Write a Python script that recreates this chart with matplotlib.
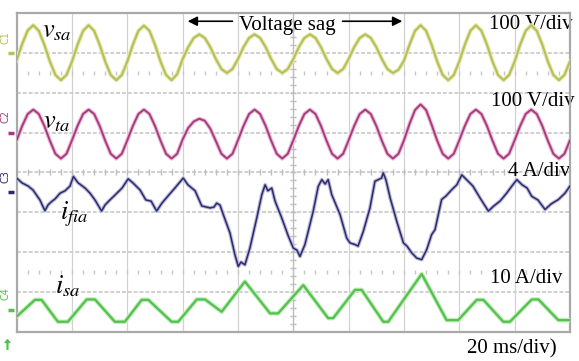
import matplotlib.pyplot as plt
import numpy as np

# =============================================================================
# Scope capture: source voltage, load voltage, filter current, source current
# (time in ms, traces in screen divisions measured from each channel's zero)
# =============================================================================

# voltage channels, sampled every 2 ms (one row = one 20 ms cycle)
t_v = list(range(0, 201, 2))

v_sa = [-0.18, 0.23, 0.57, 0.70, 0.56, 0.21, -0.21, -0.55, -0.68, -0.55,
        -0.21, 0.21, 0.56, 0.70, 0.56, 0.21, -0.21, -0.55, -0.68, -0.55,
        -0.21, 0.21, 0.56, 0.69, 0.56, 0.21, -0.21, -0.55, -0.68, -0.53,
        -0.15, 0.15, 0.38, 0.47, 0.38, 0.15, -0.15, -0.40, -0.50, -0.40,
        -0.15, 0.15, 0.38, 0.47, 0.38, 0.15, -0.15, -0.40, -0.50, -0.40,
        -0.15, 0.15, 0.38, 0.47, 0.38, 0.15, -0.15, -0.40, -0.50, -0.40,
        -0.15, 0.15, 0.38, 0.47, 0.38, 0.15, -0.15, -0.40, -0.50, -0.42,
        -0.19, 0.21, 0.56, 0.70, 0.56, 0.21, -0.21, -0.55, -0.68, -0.55,
        -0.21, 0.21, 0.56, 0.70, 0.56, 0.21, -0.21, -0.55, -0.68, -0.55,
        -0.21, 0.21, 0.56, 0.70, 0.56, 0.21, -0.21, -0.55, -0.68, -0.55,
        -0.21]

v_ta = [-0.19, 0.17, 0.47, 0.58, 0.47, 0.17, -0.20, -0.53, -0.65, -0.53,
        -0.19, 0.17, 0.47, 0.58, 0.47, 0.17, -0.20, -0.53, -0.65, -0.53,
        -0.19, 0.17, 0.47, 0.58, 0.47, 0.17, -0.20, -0.53, -0.65, -0.53,
        -0.17, 0.12, 0.28, 0.35, 0.30, 0.10, -0.21, -0.53, -0.65, -0.53,
        -0.19, 0.17, 0.47, 0.58, 0.47, 0.17, -0.20, -0.53, -0.65, -0.53,
        -0.19, 0.17, 0.47, 0.58, 0.47, 0.17, -0.20, -0.53, -0.65, -0.53,
        -0.19, 0.17, 0.47, 0.58, 0.47, 0.17, -0.20, -0.53, -0.65, -0.53,
        -0.19, 0.22, 0.57, 0.71, 0.57, 0.20, -0.20, -0.53, -0.65, -0.53,
        -0.19, 0.17, 0.47, 0.58, 0.47, 0.17, -0.20, -0.53, -0.65, -0.53,
        -0.19, 0.17, 0.47, 0.58, 0.47, 0.17, -0.20, -0.53, -0.65, -0.53,
        -0.19]

# filter current (jagged, read point by point)
t_fia = [0, 1.9, 4.1, 5.9, 8.4, 10.2, 11.4, 12.8, 13.8, 15.7,
         17.5, 19.3, 20.5, 22.2, 24.7, 26.5, 28.3, 30.7, 31.9, 33.7,
         35.5, 38.1, 40.3, 42.0, 44.6, 46.7, 48.6, 50.6, 52.5, 54.7,
         57.2, 60.2, 61.9, 64.5, 66.9, 69.9, 71.3, 72.3, 73.5, 74.7,
         77.1, 78.9, 80.1, 81.1, 82.5, 84.3, 86.8, 88.6, 89.8, 90.8,
         92.2, 93.4, 95.8, 98.2, 100.0, 101.3, 102.4, 104.2, 107.2, 109.0,
         110.3, 111.5, 112.6, 113.9, 116.9, 119.3, 120.5, 122.3, 123.4, 125.3,
         127.7, 129.5, 131.9, 132.5, 133.5, 135.0, 137.4, 139.8, 141.1, 142.8,
         144.6, 146.4, 148.2, 150.0, 151.2, 153.6, 155.2, 157.3, 159.1, 160.9,
         163.2, 164.9, 167.5, 170.5, 172.5, 174.7, 177.1, 178.9, 180.8, 182.7,
         184.5, 186.2, 188.4, 191.0, 193.2, 195.8, 198.2, 200.0]
i_fia = [0.36, 0.24, 0.16, 0.06, -0.19, -0.46, -0.31, -0.22, -0.17, -0.02,
         0.04, 0.16, 0.40, 0.24, 0.11, -0.02, -0.19, -0.47, -0.32, -0.19,
         -0.07, 0.11, 0.34, 0.24, 0.06, -0.19, -0.22, -0.47, -0.27, -0.09,
         0.11, 0.36, 0.19, 0.04, -0.34, -0.39, -0.37, -0.27, -0.32, -0.56,
         -1.02, -1.57, -1.86, -1.75, -1.82, -1.40, -0.64, -0.06, 0.19, 0.04,
         0.11, -0.22, -0.64, -1.10, -1.40, -1.45, -1.61, -1.31, -0.47, 0.15,
         0.32, 0.21, 0.32, -0.06, -0.56, -1.15, -1.27, -1.31, -1.35, -0.98,
         -0.39, 0.28, 0.36, 0.49, 0.31, -0.14, -0.73, -1.27, -1.35, -1.52,
         -1.65, -1.69, -1.44, -1.06, -0.94, -0.18, -0.09, 0.07, 0.19, 0.44,
         0.28, 0.16, -0.14, -0.47, -0.34, -0.22, -0.02, 0.15, 0.32, 0.19,
         0.11, -0.10, -0.19, -0.43, -0.29, -0.18, -0.02, 0.16]

# source current (trapezoid-ish corners)
t_isa = [0, 6.6, 9.0, 14.9, 18.5, 25.3, 28.3, 35.5, 39.1, 45.2,
         47.6, 56.0, 58.4, 65.1, 68.1, 74.1, 82.5, 91.6, 94.5, 103.6,
         112.6, 114.4, 122.3, 124.7, 132.5, 134.3, 146.4, 155.4, 159.6, 166.3,
         168.7, 175.9, 178.3, 186.2, 188.6, 195.8, 200.0]
i_sa = [-0.17, 0.25, 0.25, -0.30, -0.30, 0.26, 0.26, -0.30, -0.30, 0.25,
        0.25, -0.30, -0.30, 0.26, 0.26, -0.05, 0.71, -0.09, -0.09, 0.62,
        -0.21, -0.21, 0.50, 0.50, -0.30, -0.30, 0.90, -0.26, -0.26, 0.25,
        0.25, -0.30, -0.30, 0.26, 0.26, -0.26, -0.26]

ms_per_div = 20.0
# channel zero levels on screen (div)
off_c1, off_c2, off_c3, off_c4 = 3.0, 1.0, -0.5, -3.45

plt.rcParams['font.family'] = ['Liberation Serif', 'DejaVu Serif']
plt.rcParams['mathtext.fontset'] = 'stix'

fig = plt.figure(figsize=(5.79, 3.61), dpi=100)
ax = fig.add_axes([0.0288, 0.0812, 0.9556, 0.882])
ax.set_xlim(0, 10)
ax.set_ylim(-4, 4)
ax.set_xticks([])
ax.set_yticks([])
for s in ax.spines.values():
    s.set_color('#a9a9a9')
    s.set_linewidth(1.6)

# graticule
for gx in range(1, 10):
    ax.axvline(gx, color='#d2d2d2', lw=0.9, zorder=1)
for gy in range(-3, 4):
    ax.axhline(gy, color='#cfcfcf', lw=1.4, ls=(0, (2, 1)), zorder=1)
ax.axvline(5, color='#bdbdbd', lw=0.9, zorder=1)
minor_x = np.arange(0.2, 10, 0.2)
minor_y = np.arange(-3.8, 4, 0.2)
ax.plot(minor_x, np.zeros_like(minor_x), '|', ms=5, color='#bdbdbd', zorder=1)
ax.plot(np.full_like(minor_y, 5), minor_y, '_', ms=5, color='#bdbdbd', zorder=1)
for yy in (2.5, -2.5):
    ax.plot(minor_x, np.full_like(minor_x, yy), '|', ms=3, color='#c8c8c8', zorder=1)

# scale texts (under the traces)
ax.text(10.05, 3.6, '100 V/div', fontsize=15, ha='right', va='baseline', zorder=2, clip_on=False)
ax.text(10.09, 1.67, '100 V/div', fontsize=15, ha='right', va='baseline', zorder=2, clip_on=False)
ax.text(10.0, -0.09, '4 A/div', fontsize=15, ha='right', va='baseline', zorder=2, clip_on=False)
ax.text(9.86, -2.78, '10 A/div', fontsize=15, ha='right', va='baseline', zorder=2)
ax.text(9.76, -4.56, '20 ms/div)', fontsize=15, ha='right', va='baseline', clip_on=False)

# traces with a soft glow like the scope screen
def trace(t, y, off, col, glow, lw):
    x = np.array(t) / ms_per_div
    yy = np.array(y) + off
    ax.plot(x, yy, color=glow, lw=lw + 1.6, solid_joinstyle='round', zorder=3)
    ax.plot(x, yy, color=col, lw=lw, solid_joinstyle='round', zorder=4)

trace(t_v, v_sa, off_c1, '#b7bf55', '#e6e9b8', 1.5)
trace(t_v, v_ta, off_c2, '#aa3a80', '#e8c0d8', 1.4)
trace(t_fia, i_fia, off_c3, '#2c2a6c', '#b8b7d8', 1.1)
trace(t_isa, i_sa, off_c4, '#52c24c', '#c2ecbc', 1.6)

# labels
ax.text(0.46, 3.53, r'$v_{sa}$', fontsize=19, va='center', zorder=5)
ax.text(0.47, 1.24, r'$v_{ta}$', fontsize=19, va='center', zorder=5)
ax.text(0.78, -1.05, r'$i_{fia}$', fontsize=19, va='center', zorder=5)
ax.text(0.69, -2.85, r'$i_{sa}$', fontsize=19, va='center', zorder=5)

ax.text(4.89, 3.59, 'Voltage sag', fontsize=15, ha='center', va='baseline', zorder=5)
ax.annotate('', xy=(3.04, 3.8), xytext=(3.95, 3.8),
            arrowprops=dict(arrowstyle='-|>', color='black', lw=1.2, mutation_scale=14))
ax.annotate('', xy=(7.02, 3.8), xytext=(5.84, 3.8),
            arrowprops=dict(arrowstyle='-|>', color='black', lw=1.2, mutation_scale=14))

# channel tags at the left edge
chans = [('C1', off_c1, '#b7bf55'), ('C2', off_c2, '#aa3a80'),
         ('C3', off_c3, '#2c2a6c'), ('C4', off_c4, '#52c24c')]
for name, off, col in chans:
    ax.text(-0.2, off + 0.4, name, fontsize=7, rotation=90, color=col,
            ha='center', va='center', family='DejaVu Sans', clip_on=False)
    ax.plot([-0.15, -0.05], [off, off], color=col, lw=2.5, clip_on=False,
            solid_capstyle='butt')
ax.plot([-0.17], [-4.3], marker='$\u2191$', color='#52c24c', ms=7, clip_on=False)

plt.savefig('out.png', dpi=100)
